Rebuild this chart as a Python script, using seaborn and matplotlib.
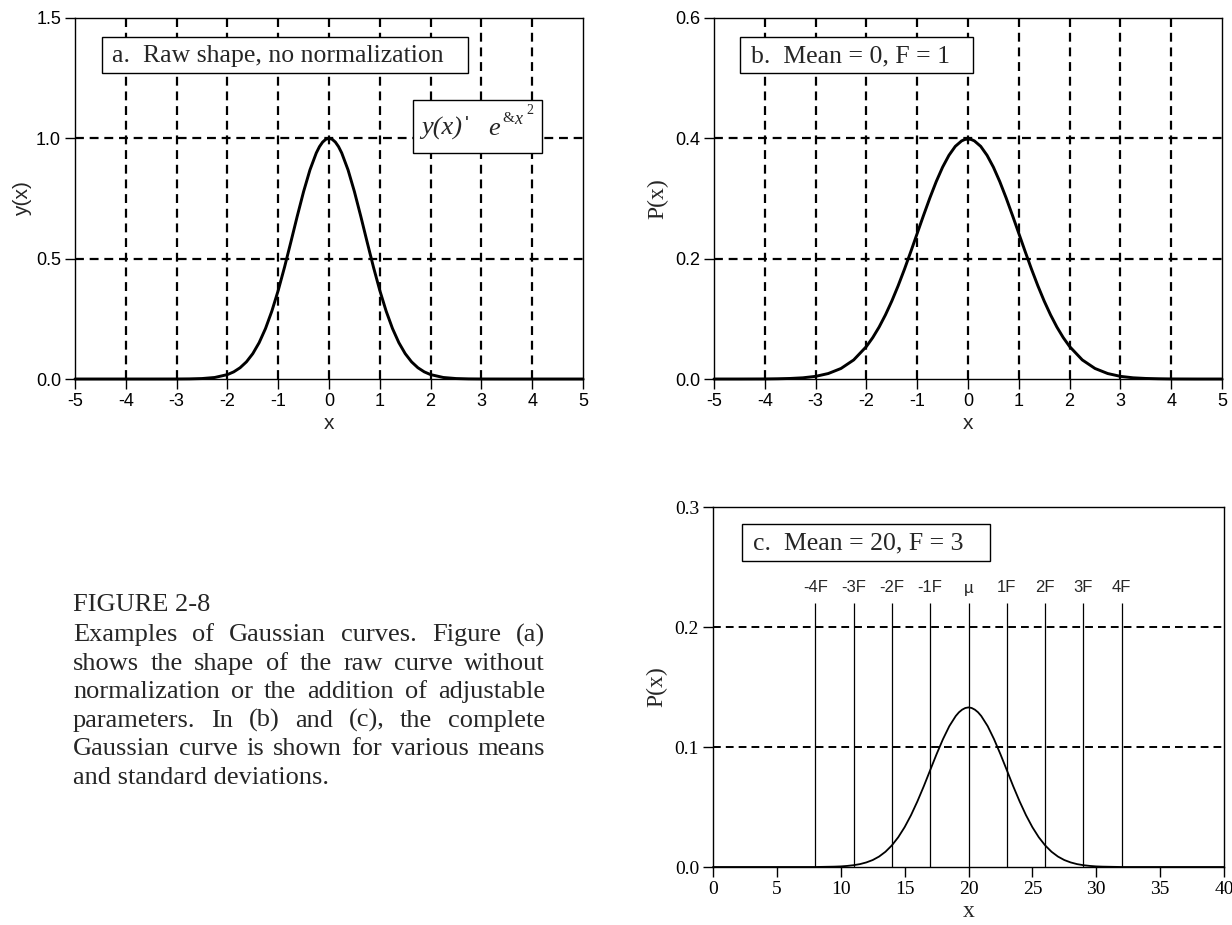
import matplotlib
matplotlib.use("Agg")
import matplotlib.pyplot as plt
import matplotlib.patches as mpatches
import seaborn as sns

# ---------------- data ----------------
# (a) raw shape y(x) = exp(-x^2)
a_x = [-5, -4.5, -4, -3.5, -3, -2.75, -2.5, -2.25, -2, -1.875, -1.75, -1.625, -1.5, -1.375,
       -1.25, -1.125, -1, -0.875, -0.75, -0.625, -0.5, -0.375, -0.25, -0.1875, -0.125, -0.0625, 0,
       0.0625, 0.125, 0.1875, 0.25, 0.375, 0.5, 0.625, 0.75, 0.875, 1, 1.125, 1.25, 1.375, 1.5, 1.625,
       1.75, 1.875, 2, 2.25, 2.5, 2.75, 3, 3.5, 4, 4.5, 5]
a_y = [0, 0, 0, 0, 0.0001, 0.0005, 0.0019, 0.0063, 0.0183, 0.0297, 0.0468, 0.0713, 0.1054, 0.1510,
       0.2096, 0.2821, 0.3679, 0.4650, 0.5698, 0.6766, 0.7788, 0.8688, 0.9394, 0.9655, 0.9845, 0.9961, 1.0,
       0.9961, 0.9845, 0.9655, 0.9394, 0.8688, 0.7788, 0.6766, 0.5698, 0.4650, 0.3679, 0.2821, 0.2096, 0.1510, 0.1054, 0.0713,
       0.0468, 0.0297, 0.0183, 0.0063, 0.0019, 0.0005, 0.0001, 0, 0, 0, 0]

# (b) mean = 0, sigma = 1
b_x = [-5, -4.5, -4, -3.75, -3.5, -3.25, -3, -2.75, -2.5, -2.25, -2, -1.875, -1.75, -1.625, -1.5,
       -1.375, -1.25, -1.125, -1, -0.875, -0.75, -0.625, -0.5, -0.375, -0.25, -0.125, -0.0625, 0,
       0.0625, 0.125, 0.25, 0.375, 0.5, 0.625, 0.75, 0.875, 1, 1.125, 1.25, 1.375, 1.5, 1.625,
       1.75, 1.875, 2, 2.25, 2.5, 2.75, 3, 3.25, 3.5, 3.75, 4, 4.5, 5]
b_p = [0, 0, 0.0001, 0.0004, 0.0009, 0.0020, 0.0044, 0.0091, 0.0175, 0.0317, 0.0540, 0.0688, 0.0863, 0.1066, 0.1295,
       0.1550, 0.1826, 0.2119, 0.2420, 0.2720, 0.3011, 0.3282, 0.3521, 0.3718, 0.3867, 0.3958, 0.3981, 0.3989,
       0.3981, 0.3958, 0.3867, 0.3718, 0.3521, 0.3282, 0.3011, 0.2720, 0.2420, 0.2119, 0.1826, 0.1550, 0.1295, 0.1066,
       0.0863, 0.0688, 0.0540, 0.0317, 0.0175, 0.0091, 0.0044, 0.0020, 0.0009, 0.0004, 0.0001, 0, 0]

# (c) mean = 20, sigma = 3
c_x = [0, 1, 2, 3, 4, 5, 6, 7, 8, 8.5, 9, 9.5, 10, 10.5, 11, 11.5, 12, 12.5, 13, 13.5, 14, 14.5,
       15, 15.5, 16, 16.5, 17, 17.5, 18, 18.5, 19, 19.25, 19.5, 19.75, 20, 20.25, 20.5, 20.75, 21,
       21.5, 22, 22.5, 23, 23.5, 24, 24.5, 25, 25.5, 26, 26.5, 27, 27.5, 28, 28.5, 29, 29.5, 30,
       30.5, 31, 31.5, 32, 33, 34, 35, 36, 37, 38, 39, 40]
c_p = [0, 0, 0, 0, 0, 0, 0, 0, 0, 0.0001, 0.0002, 0.0003, 0.0005, 0.0009, 0.0015, 0.0024, 0.0038, 0.0058, 0.0087, 0.0127, 0.0180, 0.0248,
       0.0332, 0.0432, 0.0547, 0.0673, 0.0807, 0.0940, 0.1065, 0.1174, 0.1258, 0.1289, 0.1311, 0.1325, 0.1330, 0.1325, 0.1311, 0.1289, 0.1258,
       0.1174, 0.1065, 0.0940, 0.0807, 0.0673, 0.0547, 0.0432, 0.0332, 0.0248, 0.0180, 0.0127, 0.0087, 0.0058, 0.0038, 0.0024, 0.0015, 0.0009, 0.0005,
       0.0003, 0.0002, 0.0001, 0, 0, 0, 0, 0, 0, 0, 0, 0]

ab_xticks = [-5, -4, -3, -2, -1, 0, 1, 2, 3, 4, 5]
ab_vgrid = [-4, -3, -2, -1, 0, 1, 2, 3, 4]
a_yticks = [0.0, 0.5, 1.0, 1.5]
a_hgrid = [0.5, 1.0]
b_yticks = [0.0, 0.2, 0.4, 0.6]
b_hgrid = [0.2, 0.4]
c_xticks = [0, 5, 10, 15, 20, 25, 30, 35, 40]
c_yticks = [0.0, 0.1, 0.2, 0.3]
c_hgrid = [0.1, 0.2]
sigma_x = [8, 11, 14, 17, 20, 23, 26, 29, 32]
sigma_labels = ["-4F", "-3F", "-2F", "-1F", "\u00b5", "1F", "2F", "3F", "4F"]
sigma_top = 0.22

caption_lines = [
    "Examples of Gaussian curves. Figure (a)",
    "shows the shape of the raw curve without",
    "normalization or the addition of adjustable",
    "parameters.  In (b) and (c), the complete",
    "Gaussian curve is shown for  various means",
    "and standard deviations.",
]

# ---------------- style ----------------
sns.set_style("ticks")
SANS = ["Liberation Sans", "DejaVu Sans"]
SERIF = ["Liberation Serif", "DejaVu Serif"]
plt.rcParams["font.family"] = SERIF

W, H = 1232, 925
fig = plt.figure(figsize=(W / 100, H / 100), dpi=100)


def rect(l, t, r, b):
    return [l / W, 1 - b / H, (r - l) / W, (b - t) / H]


def style_axes(ax, tickfont, size):
    for s in ax.spines.values():
        s.set_visible(True)
        s.set_color("black")
        s.set_linewidth(1.0)
    ax.tick_params(direction="out", length=7, width=1, color="black", pad=3,
                   labelsize=size, top=False, right=False)
    for lab in ax.get_xticklabels() + ax.get_yticklabels():
        lab.set_family(tickfont)
        lab.set_color("black")


def draw_curve(ax, x, y, lw):
    sns.lineplot(x=x, y=y, ax=ax, color="black", linewidth=lw, zorder=4)
    for ln in ax.lines:
        ln.set_clip_on(False)
        ln.set_solid_joinstyle("round")


DASH = (0, (4, 2.6))

# ----- panel a -----
ax_a = fig.add_axes(rect(75, 18, 583, 379))
for v in ab_vgrid:
    ax_a.axvline(v, color="black", lw=1.6, ls=DASH, zorder=1)
for h in a_hgrid:
    ax_a.axhline(h, color="black", lw=1.6, ls=DASH, zorder=1)
draw_curve(ax_a, a_x, a_y, 2.1)
ax_a.set_xlim(-5, 5)
ax_a.set_ylim(0, 1.5)
ax_a.set_xticks(ab_xticks)
ax_a.set_xticklabels([str(t) for t in ab_xticks])
ax_a.set_yticks(a_yticks)
ax_a.set_yticklabels([f"{t:.1f}" for t in a_yticks])
style_axes(ax_a, SANS, 13)
ax_a.set_xlabel("x", family=SANS, fontsize=15, labelpad=3)
ax_a.set_ylabel("y(x)", family=SANS, fontsize=15, labelpad=3)

# ----- panel b -----
ax_b = fig.add_axes(rect(714, 18, 1222, 379))
for v in ab_vgrid:
    ax_b.axvline(v, color="black", lw=1.6, ls=DASH, zorder=1)
for h in b_hgrid:
    ax_b.axhline(h, color="black", lw=1.6, ls=DASH, zorder=1)
draw_curve(ax_b, b_x, b_p, 2.1)
ax_b.set_xlim(-5, 5)
ax_b.set_ylim(0, 0.6)
ax_b.set_xticks(ab_xticks)
ax_b.set_xticklabels([str(t) for t in ab_xticks])
ax_b.set_yticks(b_yticks)
ax_b.set_yticklabels([f"{t:.1f}" for t in b_yticks])
style_axes(ax_b, SANS, 13)
ax_b.set_xlabel("x", family=SANS, fontsize=15, labelpad=3)
ax_b.set_ylabel("P(x)", family=SERIF, fontsize=17, labelpad=5)

# ----- panel c -----
ax_c = fig.add_axes(rect(713, 507, 1224, 867))
for h in c_hgrid:
    ax_c.axhline(h, color="black", lw=1.4, ls=DASH, zorder=1)
ax_c.vlines(sigma_x, 0, sigma_top, color="black", lw=0.9, zorder=2)
for sx, sl in zip(sigma_x, sigma_labels):
    ax_c.text(sx, 0.2325, sl, ha="center", va="center", family=SANS, fontsize=12)
draw_curve(ax_c, c_x, c_p, 1.3)
ax_c.set_xlim(0, 40)
ax_c.set_ylim(0, 0.3)
ax_c.set_xticks(c_xticks)
ax_c.set_xticklabels([str(t) for t in c_xticks])
ax_c.set_yticks(c_yticks)
ax_c.set_yticklabels([f"{t:.1f}" for t in c_yticks])
style_axes(ax_c, SERIF, 14)
ax_c.set_xlabel("x", family=SERIF, fontsize=17, labelpad=2)
ax_c.set_ylabel("P(x)", family=SERIF, fontsize=17, labelpad=5)


# ----- labelled boxes -----
def box(l, t, r, b):
    fig.add_artist(mpatches.Rectangle((l / W, 1 - b / H), (r - l) / W, (b - t) / H,
                                      transform=fig.transFigure, fc="white", ec="black",
                                      lw=1.0, zorder=5))


def ftext(x, y, s, size, **kw):
    kw.setdefault("family", SERIF)
    return fig.text(x / W, 1 - y / H, s, fontsize=size, zorder=6, **kw)


box(102, 37, 468, 73)
ftext(112, 56, "a.  Raw shape, no normalization", 18.5, ha="left", va="center")
box(740, 37, 973, 73)
ftext(751, 56, "b.  Mean = 0, F = 1", 18.5, ha="left", va="center")
box(742, 524, 990, 561)
ftext(753, 543, "c.  Mean = 20, F = 3", 18.5, ha="left", va="center")

# formula box  y(x) '  e^{&x^2}
box(413, 100, 542, 153)
ftext(421, 128, "y(x)", 19, ha="left", va="center", style="italic")
ftext(465, 124, "'", 15, ha="left", va="center", family=SANS)
ftext(488, 129, "e", 19, ha="left", va="center", style="italic")
ftext(502, 119, "&", 11, ha="left", va="center")
ftext(514, 119, "x", 13, ha="left", va="center", style="italic")
ftext(526, 111, "2", 10, ha="left", va="center")

# ----- caption -----
CAP_L, CAP_R = 73, 545
CAP_SIZE = 19
ftext(CAP_L, 605, "FIGURE 2-8", CAP_SIZE, ha="left", va="center")
renderer = fig.canvas.get_renderer()
for i, line in enumerate(caption_lines):
    y = 635 + i * 28.6
    if i == len(caption_lines) - 1:
        ftext(CAP_L, y, line, CAP_SIZE, ha="left", va="center")
        continue
    words = line.split()
    texts = [ftext(0, y, w, CAP_SIZE, ha="left", va="center") for w in words]
    widths = [t.get_window_extent(renderer).width for t in texts]
    gap = (CAP_R - CAP_L - sum(widths)) / (len(words) - 1)
    xpos = CAP_L
    for t, wdt in zip(texts, widths):
        t.set_x(xpos / W)
        xpos += wdt + gap

fig.savefig("out.png", dpi=100)
